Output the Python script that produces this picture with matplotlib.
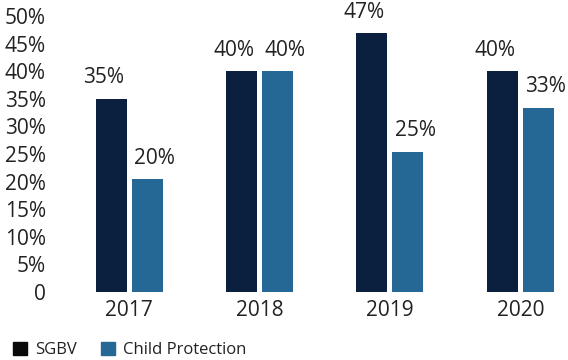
import matplotlib.pyplot as plt
from matplotlib.patches import Patch
from matplotlib.ticker import FuncFormatter

years = ["2017", "2018", "2019", "2020"]
sgbv = [35.0, 40.0, 46.9, 40.0]
child_protection = [20.4, 40.0, 25.4, 33.4]

navy = "#0b1f3f"
blue = "#256795"
txt = "#222222"

plt.rcParams["font.family"] = ["Open Sans", "DejaVu Sans"]

fig = plt.figure(figsize=(5.68, 3.6), dpi=100)
ax = fig.add_axes([64 / 568, 68 / 360, 1 - 64 / 568, 276 / 360])

x = range(len(years))
w = 0.238
off = 0.138
ax.bar([i - off for i in x], sgbv, width=w, color=navy)
ax.bar([i + off for i in x], child_protection, width=w, color=blue)

for i in x:
    ax.annotate(f"{sgbv[i]:.0f}%", (i - off, sgbv[i]), xytext=(-5.4, 15),
                textcoords="offset points", ha="center", va="center",
                fontsize=15, color=txt)
    ax.annotate(f"{child_protection[i]:.0f}%", (i + off, child_protection[i]),
                xytext=(5.4, 15), textcoords="offset points", ha="center",
                va="center", fontsize=15, color=txt)

ax.set_xlim(-0.5, (568 - 129.5) / 130.3)
ax.set_ylim(0, 50)
ax.set_yticks(range(0, 51, 5))
ax.yaxis.set_major_formatter(FuncFormatter(lambda v, p: "0" if v == 0 else f"{v:.0f}%"))
ax.set_xticks(list(x))
ax.set_xticklabels(years)
ax.tick_params(length=0, labelsize=15, colors=txt)
ax.tick_params(axis="y", pad=13)
ax.tick_params(axis="x", pad=6)
for s in ax.spines.values():
    s.set_visible(False)

handles = [Patch(color="#0a0a0a", label="SGBV"), Patch(color=blue, label="Child Protection")]
fig.legend(handles=handles, loc="center left", bbox_to_anchor=(0.023, 10 / 360),
           ncol=2, frameon=False, fontsize=12, borderpad=0, borderaxespad=0,
           handlelength=0.85, handleheight=0.85, handletextpad=0.5,
           columnspacing=1.4, labelcolor=txt)

fig.savefig("out.png", dpi=100)
